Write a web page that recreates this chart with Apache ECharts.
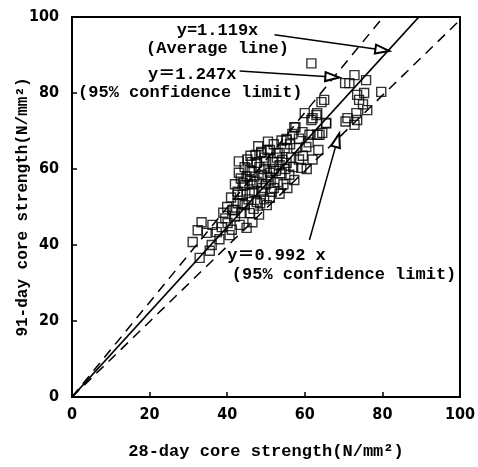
<!DOCTYPE html>
<html>
<head>
<meta charset="UTF-8">
<title></title>
<style>
html,body{margin:0;padding:0;background:#fff}
#chart{width:478px;height:467px}
</style>
</head>
<body>
<div id="chart"></div>
<script src="https://cdn.jsdelivr.net/npm/echarts@6/dist/echarts.min.js"></script>
<script>
// 28-day core strength vs 91-day core strength (N/mm2)
var points = [
	[31.1,40.8],[32.4,43.9],[33.4,46],[32.9,36.6],[34.7,43.2],[36.2,45.3],[37.3,43.4],[36,40],[38.6,44.7],[35.5,38.5],
	[38,41.5],[39.5,47],[40.1,45.8],[40.6,42.6],[41.2,44],[41.9,49.2],[42.7,51],[43.2,45.3],[42,47.5],[44,53.2],
	[45,44.5],[45.8,48.4],[46.5,46],[43.7,48.4],[41.4,49.2],[44.5,50.5],[45.5,52],[46.8,49.5],[47.6,51.3],[48.2,48],
	[44,51],[42.7,53.2],[42.7,54],[44.5,55.8],[45.8,53.7],[46.5,56],[47.6,56.6],[48.8,54],[49.5,52],[50.2,50.5],
	[51,52.4],[50.4,57.9],[49,58.5],[46.3,59.2],[45.8,59.7],[44,56.3],[47.6,61.6],[46.3,61.8],[47.3,63.7],[48.8,64.2],
	[48.3,60.5],[48.8,64.5],[50.4,65],[51,65],[51.7,61.8],[52.5,59.5],[53,64.2],[53.5,64.2],[54.2,62.4],[54,58.9],
	[55.3,61.6],[55.3,67.6],[55.3,67.9],[56.5,63],[57.3,57.1],[57.8,65.5],[57.3,71],[59.1,60.3],[60.4,65.8],[60,74.7],
	[63,74.2],[65.5,72],[63.2,69],[64.5,69.5],[63.5,65],[52,55],[53,56.5],[51.5,54],[50,56],[49,55],
	[47,54],[46,57],[45,58],[43.5,57.5],[43,59],[44.5,60.5],[52,60],[53.5,61],[55,60],[56,58.5],
	[54.5,56],[51,59],[50,62],[49.5,60],[52.8,63],[54.8,65.5],[56.2,66.5],[58.5,68],[59.4,69.7],[61.2,69],
	[63.8,69],[57.6,71],[62,73.4],[63.2,74.7],[65.5,72.1],[64.3,77.6],[65,78.2],[61.7,87.8],[52,66.5],[50.5,67.2],
	[48,66],[46,63.5],[58.5,62.5],[59.5,63.5],[61,67],[62,62.5],[60.5,60],[42,56],[41,52.5],[40,50],
	[39,48.5],[43,62],[45.2,62.5],[47,58],[48.5,51],[53.5,53.5],[55.5,55],[57,60.5],[49.6,63],[51.2,57],
	[54,67.5],[56.8,69.2],[61.7,72.9],
	[70.4,82.6],[71.5,82.6],[72.8,84.7],[75.8,83.4],[79.7,80.3],[73.5,79.5],[75.3,80],[74,78.2],[76.1,75.5],[73.3,74.7],
	[71,73.4],[72.8,71.6],[73.5,72.9],[75,77],[70.5,72.5]
];

// regression lines y = k x
var avgLine = [[0,0],[89.4,100]];     // y=1.119x
var upperLine = [[0,0],[80.2,100]];   // y=1.247x
var lowerLine = [[0,0],[100,99.2]];   // y=0.992x

// annotation text and arrows (start -> tip, data units)
var notes = [
	{text:'y=1.119x', at:[37.5,96.3], align:'center'},
	{text:'(Average line)', at:[37.5,91.6], align:'center'},
	{text:'y＝1.247x', at:[31,84.7], align:'center'},
	{text:'(95% confidence limit)', at:[30.5,80], align:'center'},
	{text:'y＝0.992 x', at:[40,37.3], align:'left'},
	{text:'(95% confidence limit)', at:[41.2,32.3], align:'left'}
];
var arrows = [
	[[52.2,95.3],[80.0,91.3]],
	[[43.2,85.8],[67.1,84.2]],
	[[61.2,41.3],[68.4,67.6]]
];

var chart = echarts.init(document.getElementById('chart'));

var lblFont = {color:'#000', fontWeight:'bold', fontFamily:'Liberation Sans Narrow, DejaVu Sans Condensed, sans-serif', fontSize:16};
var txtFont = 'Liberation Mono, DejaVu Sans Mono, Noto Sans CJK JP, monospace';

function axisCommon(name, gap) {
	return {
		type:'value', min:0, max:100, interval:20,
		name:name, nameLocation:'middle', nameGap:gap, nameMoveOverlap:false,
		nameTextStyle:{color:'#000', fontWeight:'bold', fontFamily:txtFont, fontSize:17},
		axisLine:{show:true, lineStyle:{color:'#000', width:2}},
		axisTick:{show:true, inside:true, length:5, lineStyle:{color:'#000', width:1.5}},
		axisLabel:Object.assign({margin:10}, lblFont),
		splitLine:{show:false}
	};
}

var xAxis = axisCommon('28-day core strength(N/mm²)', 46);
var yAxis = axisCommon('91-day core strength(N/mm²)', 41);
yAxis.nameTextStyle.fontSize = 16;
yAxis.axisLabel.margin = 13;

var option = {
	animation:false,
	backgroundColor:'#fff',
	grid:{left:72, right:17, top:17, bottom:70, show:true, borderColor:'#000', borderWidth:2},
	xAxis:xAxis,
	yAxis:yAxis,
	series:[
		{type:'line', data:upperLine, symbol:'none', silent:true,
			lineStyle:{color:'#000', width:1.5, type:[10,7]}},
		{type:'line', data:avgLine, symbol:'none', silent:true,
			lineStyle:{color:'#000', width:1.8}},
		{type:'line', data:lowerLine, symbol:'none', silent:true,
			lineStyle:{color:'#000', width:1.5, type:[10,7]}},
		{type:'scatter', data:points, symbol:'rect', symbolSize:9,
			itemStyle:{color:'rgba(255,255,255,0)', borderColor:'#000', borderWidth:1.4}},
		{type:'line', data:[], silent:true,
			markLine:{
				silent:true, animation:false,
				symbol:['none','emptyTriangle'], symbolSize:[9,14],
				label:{show:false},
				lineStyle:{color:'#000', width:1.5, type:'solid'},
				data:arrows.map(function (a) { return [{coord:a[0]}, {coord:a[1]}]; })
			},
			markPoint:{
				silent:true, animation:false,
				symbol:'circle', symbolSize:0,
				data:notes.map(function (n) {
					return {
						coord:n.at,
						label:{
							show:true, formatter:n.text,
							position:n.align == 'left' ? 'right' : 'inside', distance:0,
							color:'#000', fontWeight:'bold', fontFamily:txtFont, fontSize:17
						}
					};
				})
			}
		}
	]
};
chart.setOption(option);
</script>
</body>
</html>
